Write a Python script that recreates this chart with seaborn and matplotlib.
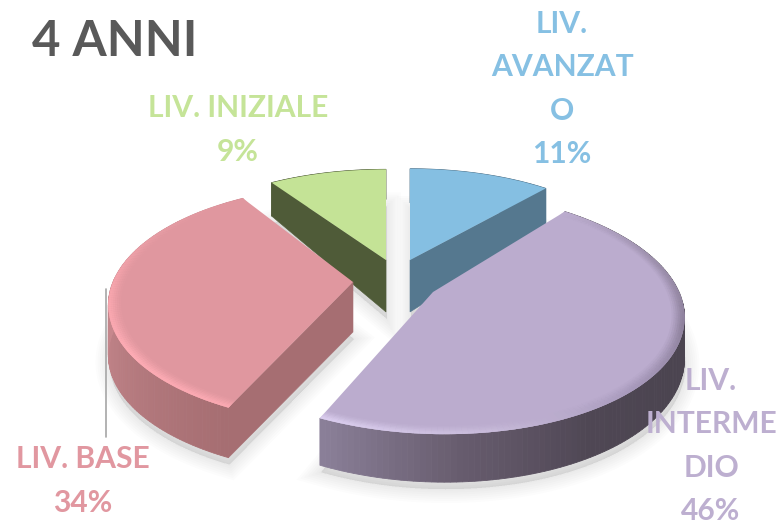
import numpy as np
import matplotlib
matplotlib.use('Agg')
import matplotlib.pyplot as plt
from matplotlib.transforms import Transform
import seaborn as sns

# dati
categorie = ['LIV.\nAVANZAT\nO', 'LIV.\nINTERME\nDIO', 'LIV. BASE', 'LIV. INIZIALE']
percentuali = [11, 46, 34, 9]
titolo = '4 ANNI'

# colori
col_top = ['#85bfe2', '#bbacce', '#e0979f', '#c4e396']
col_wall = ['#55788f', None, '#a66e72', '#4f5b38']
lato_wall = ['min', None, 'max', 'max']
col_rim = [['#55788f', '#55788f'],
           ['#4b4450', '#4b4450', '#4b4450', '#4b4450', '#4f4754', '#675c6e', '#8a7f98'],
           ['#a66e72', '#bb7f84', '#d08e94', '#d08e94'],
           ['#4f5b38', '#4f5b38']]
col_bevel = [None,
             ['#bbacce', '#9c8fab', '#8d809b', '#a99bbd', '#c9bcdb', '#dccff0'],
             ['#fcaab3', '#ffadb6', '#f8a6ae', '#e79da5', '#e0979f'],
             None]

# geometria di ogni fetta: apice, raggio x, raggio y, prospettiva, taglio, spessore
ax_apice = [(410, 260), (433, 292), (353, 282), (386, 260)]
raggio_x = [227, 246, 240, 226]
raggio_y = [99, 118, 115, 97]
prosp = [0.085, 0.17, 0.19, 0.07]
taglio = [0, -10, 1, 0]
spess0 = [52, 38, 50, 52]
spess1 = [-18, -10, 0, -22]
ordine_z = [1, 3, 2, 1]


class VistaFetta(Transform):
    input_dims = 2
    output_dims = 2

    def __init__(self, i):
        super().__init__()
        self.i = i

    def transform_non_affine(self, pts):
        i = self.i
        pts = np.asarray(pts, dtype=float)
        x, y = pts[:, 0], pts[:, 1]
        w = 1 + prosp[i] * y
        sx = ax_apice[i][0] + (raggio_x[i] * x + taglio[i] * y) / w
        sy = ax_apice[i][1] - raggio_y[i] * y / w
        return np.column_stack([sx, sy])


def giu(i, pts):
    # stessi punti sulla faccia inferiore
    out = VistaFetta(i).transform_non_affine(pts)
    out[:, 1] += spess0[i] + spess1[i] * pts[:, 1]
    return out


sns.set_theme(style='white')
plt.rcParams['font.family'] = ['Lato', 'DejaVu Sans']

fig = plt.figure(figsize=(7.8, 5.2), dpi=100)
ax = fig.add_axes([0, 0, 1, 1])

fette, _ = ax.pie(percentuali, colors=col_top, startangle=90, counterclock=False, radius=1)
ax.set_aspect('auto')
ax.set_xlim(0, 780)
ax.set_ylim(520, 0)
ax.axis('off')

for i, w in enumerate(fette):
    z = ordine_z[i] * 10
    a1, a2 = w.theta1, w.theta2
    # da orario: parte da theta2 e scende a theta1
    ang = np.radians(np.linspace(a2, a1, 140))
    arco = np.column_stack([np.cos(ang), np.sin(ang)])
    centro = np.array([[0.0, 0.0]])

    # ombra morbida sotto la fetta
    ombra = giu(i, np.vstack([centro, arco]))
    for lw in range(2, 22, 3):
        ax.fill(ombra[:, 0] + 1, ombra[:, 1] + 7, color='black', alpha=0.012, lw=lw, zorder=0)

    # bordo esterno con sfumatura
    pal = sns.blend_palette(col_rim[i], len(arco) - 1)
    su = VistaFetta(i).transform_non_affine(arco)
    sotto = giu(i, arco)
    for k in range(len(arco) - 1):
        ax.fill([su[k, 0], su[k + 1, 0], sotto[k + 1, 0], sotto[k, 0]],
                [su[k, 1], su[k + 1, 1], sotto[k + 1, 1], sotto[k, 1]],
                color=pal[k], lw=0.6, zorder=z)

    # parete del taglio
    if col_wall[i] is not None:
        a = np.radians(a1 if lato_wall[i] == 'min' else a2)
        punta = np.array([[np.cos(a), np.sin(a)]])
        raggio = np.vstack([centro, punta])
        p_su = VistaFetta(i).transform_non_affine(raggio)
        p_giu = giu(i, raggio)
        ax.fill([p_su[0, 0], p_su[1, 0], p_giu[1, 0], p_giu[0, 0]],
                [p_su[0, 1], p_su[1, 1], p_giu[1, 1], p_giu[0, 1]],
                color=col_wall[i], lw=0.4, zorder=z + 1)

    # faccia superiore, disegnata dalla torta
    w.set_transform(VistaFetta(i) + ax.transData)
    w.set_clip_on(False)
    w.set_linewidth(0)
    w.set_zorder(z + 2)

    # smusso lungo l'arco, sfumato verso l'interno
    if col_bevel[i] is not None:
        pal_b = sns.blend_palette(col_bevel[i], len(arco) - 1)
        for spes, alfa in [(0.05, 0.12), (0.042, 0.18), (0.034, 0.25), (0.026, 0.35), (0.018, 0.5), (0.01, 0.7)]:
            dentro = VistaFetta(i).transform_non_affine(arco * (1 - spes))
            for k in range(len(arco) - 1):
                ax.fill([su[k, 0], su[k + 1, 0], dentro[k + 1, 0], dentro[k, 0]],
                        [su[k, 1], su[k + 1, 1], dentro[k + 1, 1], dentro[k, 1]],
                        color=pal_b[k], alpha=alfa, lw=0, zorder=z + 3)

# linea guida di LIV. BASE
ax.plot([105.5, 105.5], [289, 437], color='#a6a6a6', lw=1.2, zorder=5)

# testi
ax.text(32, 41, titolo, color='#595959', fontsize=35.5, fontweight='bold', ha='left', va='center')

pos_etich = [(562, 89), (711, 446), (83, 481), (238, 130)]
col_etich = ['#86c0e3', '#bdafd0', '#e197a0', '#c5e498']
for i, c in enumerate(categorie):
    ax.text(pos_etich[i][0], pos_etich[i][1], f'{c}\n{percentuali[i]}%', color=col_etich[i],
            fontsize=21.6, fontweight='bold', ha='center', va='center', linespacing=1.68,
            zorder=50, clip_on=True)

fig.savefig('out.png', dpi=100)
